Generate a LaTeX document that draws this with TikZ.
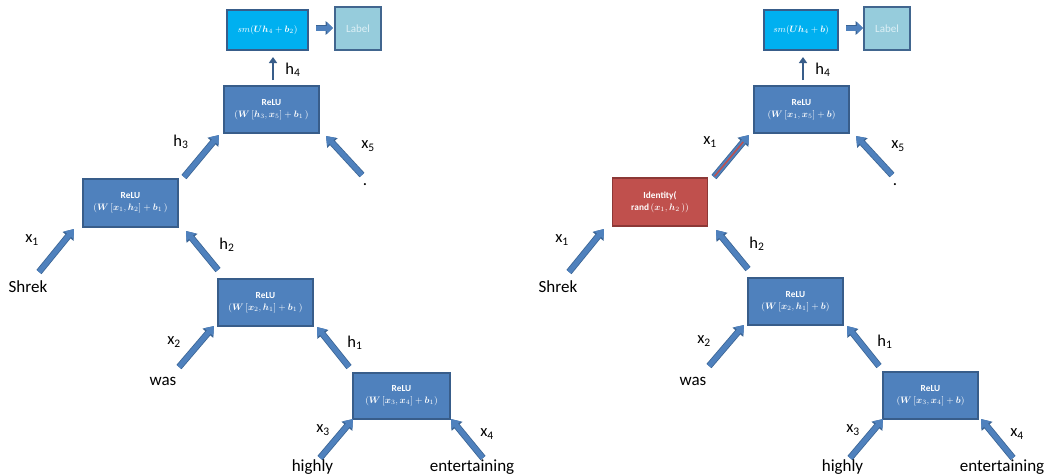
\RequirePackage{fix-cm}
\documentclass[tikz,border=0pt]{standalone}
\usepackage{bm}
\usepackage{fontspec}
\setmainfont{Carlito}
\usetikzlibrary{arrows.meta}
\definecolor{boxblue}{HTML}{4F81BD}
\definecolor{boxborder}{HTML}{385D8A}
\definecolor{smcyan}{HTML}{00B0F0}
\definecolor{labfill}{HTML}{96CCDC}
\definecolor{labborder}{HTML}{41668F}
\definecolor{labtext}{HTML}{DDF0F6}
\definecolor{redfill}{HTML}{C0504D}
\definecolor{redborder}{HTML}{8C3836}
\definecolor{arrowblue}{HTML}{4F81BD}
\definecolor{arrowdark}{HTML}{3A6494}
\definecolor{redline}{HTML}{C0504D}
\tikzset{
  relu/.style={draw=boxborder, line width=1.3pt, fill=boxblue, minimum width=95pt, minimum height=47pt, inner sep=0pt, text=white, align=center, font=\fontsize{9.3}{12}\selectfont},
  redbox/.style={relu, draw=redborder, fill=redfill},
  smbox/.style={draw=boxborder, line width=1.3pt, fill=smcyan, minimum height=40pt, inner sep=0pt, text=white, font=\fontsize{9.2}{10}\selectfont},
  labbox/.style={draw=labborder, line width=1.3pt, fill=labfill, minimum width=46pt, minimum height=43pt, inner sep=0pt, text=labtext, font=\fontsize{11}{12}\selectfont},
  word/.style={font=\fontsize{17}{17}\selectfont, inner sep=0pt},
  vlbl/.style={font=\fontsize{16.5}{16.5}\selectfont, inner sep=0pt},
  barrow/.style={line width=5pt, draw=arrowblue, -{Triangle[length=8pt,width=11.5pt]},
    preaction={draw=arrowdark, line width=6.6pt, -{Triangle[length=9.5pt,width=13.5pt]}}},
  sarrow/.style={line width=5pt, draw=arrowblue, -{Triangle[length=6pt,width=11.5pt]},
    preaction={draw=arrowdark, line width=6.6pt, -{Triangle[length=7.5pt,width=13.5pt]}}},
  uparrow/.style={line width=2.5pt, draw=boxborder, -{Triangle[length=6pt,width=8pt]}},
}
\begin{document}
\begin{tikzpicture}[x=1pt,y=-1pt]
\useasboundingbox (0,0) rectangle (1045,475);
% ================= LEFT TREE =================
\node[smbox, minimum width=81pt] (Lsm) at (267.5,30) {$sm(\bm{Uh}_4+\bm{b}_2)$};
\node[labbox] (Llab) at (358,28.5) {Label};
\coordinate (Lsa) at (316,28); \coordinate (Lsb) at (333,28);
\draw[sarrow] (Lsa) -- (Lsb);
\node[relu] (Lr1) at (271.5,109.5) {\textbf{ReLU}\\$(\bm{W}\,[\bm{h}_3,\bm{x}_5]+\bm{b}_1\,)$};
\node[relu, minimum height=48pt] (Lr2) at (130.5,203) {\textbf{ReLU}\\$(\bm{W}\,[\bm{x}_1,\bm{h}_2]+\bm{b}_1\,)$};
\node[relu] (Lr3) at (265.5,302.5) {\textbf{ReLU}\\$(\bm{W}\,[\bm{x}_2,\bm{h}_1]+\bm{b}_1\,)$};
\node[relu, minimum width=97pt, minimum height=46pt] (Lr4) at (401.5,396) {\textbf{ReLU}\\$(\bm{W}\,[\bm{x}_3,\bm{x}_4]+\bm{b}_1)$};
% h4
\coordinate (Lh4a) at (273,80); \coordinate (Lh4b) at (273,57);
\draw[uparrow] (Lh4a) -- (Lh4b);
\node[vlbl] (Lh4) at (293,70) {h\textsubscript{4}};
% h3
\coordinate (Lh3a) at (184,177); \coordinate (Lh3b) at (219,135);
\draw[barrow] (Lh3a) -- (Lh3b);
\node[vlbl] (Lh3) at (181,142) {h\textsubscript{3}};
% x5
\coordinate (Lx5a) at (362,175); \coordinate (Lx5b) at (326,136);
\draw[barrow] (Lx5a) -- (Lx5b);
\node[vlbl] (Lx5) at (368,146) {x\textsubscript{5}};
\node[word, anchor=base] (Ldot) at (365,185) {.};
% x1
\coordinate (Lx1a) at (39,272); \coordinate (Lx1b) at (74,229);
\draw[barrow] (Lx1a) -- (Lx1b);
\node[vlbl] (Lx1) at (32,240) {x\textsubscript{1}};
\node[word] (Lshrek) at (28,287) {Shrek};
% h2
\coordinate (Lh2a) at (218,270); \coordinate (Lh2b) at (186,231);
\draw[barrow] (Lh2a) -- (Lh2b);
\node[vlbl] (Lh2) at (227,245) {h\textsubscript{2}};
% x2
\coordinate (Lx2a) at (179,367); \coordinate (Lx2b) at (214,326);
\draw[barrow] (Lx2a) -- (Lx2b);
\node[vlbl] (Lx2) at (174,342) {x\textsubscript{2}};
\node[word] (Lwas) at (163,381) {was};
% h1
\coordinate (Lh1a) at (349,367); \coordinate (Lh1b) at (317,327);
\draw[barrow] (Lh1a) -- (Lh1b);
\node[vlbl] (Lh1) at (355,343) {h\textsubscript{1}};
% x3
\coordinate (Lx3a) at (320,458); \coordinate (Lx3b) at (353,419);
\draw[barrow] (Lx3a) -- (Lx3b);
\node[vlbl] (Lx3) at (323,430) {x\textsubscript{3}};
\node[word] (Lhighly) at (312.5,467) {highly};
% x4
\coordinate (Lx4a) at (483,458); \coordinate (Lx4b) at (451,419);
\draw[barrow] (Lx4a) -- (Lx4b);
\node[vlbl] (Lx4) at (487,434) {x\textsubscript{4}};
\node[word] (Lent) at (472,467) {entertaining};
% ================= RIGHT TREE =================
\node[smbox, minimum width=74pt] (Rsm) at (801,30) {$sm(\bm{Uh}_4+\bm{b})$};
\node[labbox] (Rlab) at (887,28.5) {Label};
\coordinate (Rsa) at (846,28); \coordinate (Rsb) at (863,28);
\draw[sarrow] (Rsa) -- (Rsb);
\node[relu] (Rr1) at (801.5,109.5) {\textbf{ReLU}\\$(\bm{W}\,[\bm{x}_1,\bm{x}_5]+\bm{b})$};
\node[redbox, minimum height=48pt] (Rr2) at (660,202) {\textbf{Identity(}\\$\mathbf{rand}\,(\bm{x}_1,\bm{h}_2\,))$};
\node[relu] (Rr3) at (795.5,301.5) {\textbf{ReLU}\\$(\bm{W}\,[\bm{x}_2,\bm{h}_1]+\bm{b})$};
\node[relu, minimum height=47pt] (Rr4) at (930.5,395.5) {\textbf{ReLU}\\$(\bm{W}\,[\bm{x}_3,\bm{x}_4]+\bm{b})$};
% h4
\coordinate (Rh4a) at (803,80); \coordinate (Rh4b) at (803,57);
\draw[uparrow] (Rh4a) -- (Rh4b);
\node[vlbl] (Rh4) at (823,70) {h\textsubscript{4}};
% x1 (red)
\coordinate (Rx1a) at (714,177); \coordinate (Rx1b) at (749,135);
\draw[barrow] (Rx1a) -- (Rx1b);
\draw[redline, line width=1.5pt, shorten >=9pt, shorten <=1pt] (Rx1a) -- (Rx1b);
\node[vlbl] (Rx1lbl) at (710,142) {x\textsubscript{1}};
% x5
\coordinate (Rx5a) at (892,175); \coordinate (Rx5b) at (856,136);
\draw[barrow] (Rx5a) -- (Rx5b);
\node[vlbl] (Rx5) at (898,146) {x\textsubscript{5}};
\node[word, anchor=base] (Rdot) at (895,185) {.};
% x1 Shrek
\coordinate (Rx1c) at (569,272); \coordinate (Rx1d) at (604,229);
\draw[barrow] (Rx1c) -- (Rx1d);
\node[vlbl] (Rx1) at (562,240) {x\textsubscript{1}};
\node[word] (Rshrek) at (558,287) {Shrek};
% h2
\coordinate (Rh2a) at (748,269); \coordinate (Rh2b) at (716,230);
\draw[barrow] (Rh2a) -- (Rh2b);
\node[vlbl] (Rh2) at (757,244) {h\textsubscript{2}};
% x2
\coordinate (Rx2a) at (709,366); \coordinate (Rx2b) at (744,325);
\draw[barrow] (Rx2a) -- (Rx2b);
\node[vlbl] (Rx2) at (704,341) {x\textsubscript{2}};
\node[word] (Rwas) at (693,381) {was};
% h1
\coordinate (Rh1a) at (879,366); \coordinate (Rh1b) at (847,326);
\draw[barrow] (Rh1a) -- (Rh1b);
\node[vlbl] (Rh1) at (885,342) {h\textsubscript{1}};
% x3
\coordinate (Rx3a) at (850,458); \coordinate (Rx3b) at (883,419);
\draw[barrow] (Rx3a) -- (Rx3b);
\node[vlbl] (Rx3) at (853,430) {x\textsubscript{3}};
\node[word] (Rhighly) at (842.5,467) {highly};
% x4
\coordinate (Rx4a) at (1013,458); \coordinate (Rx4b) at (981,419);
\draw[barrow] (Rx4a) -- (Rx4b);
\node[vlbl] (Rx4) at (1017,434) {x\textsubscript{4}};
\node[word] (Rent) at (1002,467) {entertaining};
\end{tikzpicture}
\end{document}
